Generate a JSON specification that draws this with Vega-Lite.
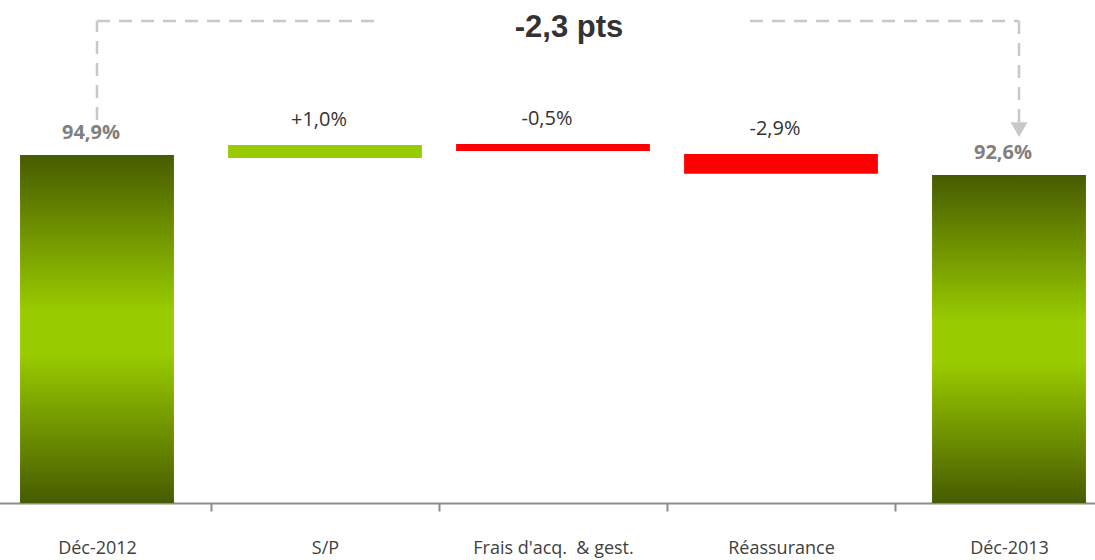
{
  "$schema": "https://vega.github.io/schema/vega-lite/v6.json",
  "width": 1085,
  "height": 498,
  "padding": {"left": 10, "top": 5, "right": 0, "bottom": 57},
  "autosize": {"type": "none"},
  "background": "white",
  "config": {
    "view": {"stroke": null},
    "font": "Open Sans",
    "axisX": {
      "domainColor": "#8c8c8c",
      "domainWidth": 2,
      "tickColor": "#8c8c8c",
      "tickWidth": 2,
      "tickSize": 8,
      "tickBand": "extent",
      "labelFont": "Open Sans",
      "labelFontSize": 18,
      "labelColor": "#404040",
      "labelPadding": 28,
      "labelAngle": 0,
      "labelDx": -18,
      "labelLimit": 0,
      "grid": false
    }
  },
  "datasets": {
    "bars": [
      {"cat": "Déc-2012", "lo": 55, "hi": 94.9, "label": "94,9%", "kind": "total"},
      {"cat": "S/P", "lo": 94.55, "hi": 96.05, "label": "+1,0%", "kind": "up"},
      {"cat": "Frais d'acq.\u00a0 & gest.", "lo": 95.36, "hi": 96.16, "label": "-0,5%", "kind": "down"},
      {"cat": "Réassurance", "lo": 92.76, "hi": 95.01, "label": "-2,9%", "kind": "down"},
      {"cat": "Déc-2013", "lo": 55, "hi": 92.6, "label": "92,6%", "kind": "total"}
    ],
    "connectors": [
      {"seg": "left-v", "cat": "Déc-2012", "y": 98.9, "y2": 110.26},
      {"seg": "left-h", "cat": "Déc-2012", "cat2": "S/P", "y": 110.26},
      {"seg": "right-h", "cat": "Réassurance", "cat2": "Déc-2013", "y": 110.26},
      {"seg": "right-v", "cat": "Déc-2013", "y": 98.68, "y2": 110.26},
      {"seg": "arrow", "cat": "Déc-2013", "y": 97.82}
    ],
    "headline": [
      {"cat": "Frais d'acq.\u00a0 & gest.", "y": 109.45, "text": "-2,3 pts"}
    ]
  },
  "layer": [
    {
      "data": {"name": "bars"},
      "transform": [{"filter": "datum.kind === 'total'"}],
      "mark": {
        "type": "bar",
        "width": {"band": 0.675},
        "color": {
          "gradient": "linear",
          "x1": 0, "y1": 0, "x2": 0, "y2": 1,
          "stops": [
            {"offset": 0, "color": "#475b00"},
            {"offset": 0.45, "color": "#99cc00"},
            {"offset": 0.57, "color": "#99cc00"},
            {"offset": 1, "color": "#475b00"}
          ]
        }
      },
      "encoding": {
        "x": {"field": "cat", "type": "nominal", "title": null, "scale": {"type": "band", "domain": ["Déc-2012", "S/P", "Frais d'acq.\u00a0 & gest.", "Réassurance", "Déc-2013"], "range": [-27, 1113], "paddingInner": 0, "paddingOuter": 0}},
        "y": {"field": "hi", "type": "quantitative", "axis": null, "scale": {"domain": [55, 112.1], "nice": false, "zero": false}},
        "y2": {"field": "lo"}
      }
    },
    {
      "data": {"name": "bars"},
      "transform": [{"filter": "datum.kind !== 'total'"}],
      "mark": {"type": "bar", "width": {"band": 0.85}},
      "encoding": {
        "x": {"field": "cat", "type": "nominal", "title": null, "scale": {"type": "band", "domain": ["Déc-2012", "S/P", "Frais d'acq.\u00a0 & gest.", "Réassurance", "Déc-2013"], "range": [-27, 1113], "paddingInner": 0, "paddingOuter": 0}},
        "y": {"field": "hi", "type": "quantitative", "axis": null, "scale": {"domain": [55, 112.1], "nice": false, "zero": false}},
        "y2": {"field": "lo"},
        "color": {"field": "kind", "type": "nominal", "legend": null, "scale": {"domain": ["up", "down"], "range": ["#99cc00", "#ff0000"]}}
      }
    },
    {
      "data": {"name": "bars"},
      "transform": [{"filter": "datum.kind !== 'total'"}],
      "mark": {"type": "text", "baseline": "middle", "align": "center", "dy": -25, "dx": -6, "fontSize": 20, "color": "#333333", "font": "Open Sans"},
      "encoding": {
        "x": {"field": "cat", "type": "nominal", "title": null, "scale": {"type": "band", "domain": ["Déc-2012", "S/P", "Frais d'acq.\u00a0 & gest.", "Réassurance", "Déc-2013"], "range": [-27, 1113], "paddingInner": 0, "paddingOuter": 0}},
        "y": {"field": "hi", "type": "quantitative", "axis": null, "scale": {"domain": [55, 112.1], "nice": false, "zero": false}},
        "text": {"field": "label"}
      }
    },
    {
      "data": {"name": "bars"},
      "transform": [{"filter": "datum.kind === 'total'"}],
      "mark": {"type": "text", "baseline": "middle", "align": "center", "dy": -22, "dx": -6, "fontSize": 20, "fontWeight": "bold", "color": "#808080", "font": "Open Sans"},
      "encoding": {
        "x": {"field": "cat", "type": "nominal", "title": null, "scale": {"type": "band", "domain": ["Déc-2012", "S/P", "Frais d'acq.\u00a0 & gest.", "Réassurance", "Déc-2013"], "range": [-27, 1113], "paddingInner": 0, "paddingOuter": 0}},
        "y": {"field": "hi", "type": "quantitative", "axis": null, "scale": {"domain": [55, 112.1], "nice": false, "zero": false}},
        "text": {"field": "label"}
      }
    },
    {
      "data": {"name": "connectors"},
      "transform": [{"filter": "datum.seg === 'left-v'"}],
      "mark": {"type": "rule", "color": "#c8c8c8", "strokeWidth": 2.5, "strokeDash": [13, 9]},
      "encoding": {
        "x": {"field": "cat", "type": "nominal", "title": null, "bandPosition": 0.5, "scale": {"type": "band", "domain": ["Déc-2012", "S/P", "Frais d'acq.\u00a0 & gest.", "Réassurance", "Déc-2013"], "range": [-27, 1113], "paddingInner": 0, "paddingOuter": 0}},
        "y": {"field": "y", "type": "quantitative", "axis": null, "scale": {"domain": [55, 112.1], "nice": false, "zero": false}},
        "y2": {"field": "y2"}
      }
    },
    {
      "data": {"name": "connectors"},
      "transform": [{"filter": "datum.seg === 'left-h'"}],
      "mark": {"type": "rule", "color": "#c8c8c8", "strokeWidth": 2.5, "strokeDash": [13, 9]},
      "encoding": {
        "x": {"field": "cat", "type": "nominal", "title": null, "bandPosition": 0.5, "scale": {"type": "band", "domain": ["Déc-2012", "S/P", "Frais d'acq.\u00a0 & gest.", "Réassurance", "Déc-2013"], "range": [-27, 1113], "paddingInner": 0, "paddingOuter": 0}},
        "x2": {"field": "cat2", "bandPosition": 0.754},
        "y": {"field": "y", "type": "quantitative", "axis": null, "scale": {"domain": [55, 112.1], "nice": false, "zero": false}}
      }
    },
    {
      "data": {"name": "connectors"},
      "transform": [{"filter": "datum.seg === 'right-h'"}],
      "mark": {"type": "rule", "color": "#c8c8c8", "strokeWidth": 2.5, "strokeDash": [13, 9]},
      "encoding": {
        "x": {"field": "cat", "type": "nominal", "title": null, "bandPosition": 0.364, "scale": {"type": "band", "domain": ["Déc-2012", "S/P", "Frais d'acq.\u00a0 & gest.", "Réassurance", "Déc-2013"], "range": [-27, 1113], "paddingInner": 0, "paddingOuter": 0}},
        "x2": {"field": "cat2", "bandPosition": 0.544},
        "y": {"field": "y", "type": "quantitative", "axis": null, "scale": {"domain": [55, 112.1], "nice": false, "zero": false}}
      }
    },
    {
      "data": {"name": "connectors"},
      "transform": [{"filter": "datum.seg === 'right-v'"}],
      "mark": {"type": "rule", "color": "#c8c8c8", "strokeWidth": 2.5, "strokeDash": [13, 9]},
      "encoding": {
        "x": {"field": "cat", "type": "nominal", "title": null, "bandPosition": 0.544, "scale": {"type": "band", "domain": ["Déc-2012", "S/P", "Frais d'acq.\u00a0 & gest.", "Réassurance", "Déc-2013"], "range": [-27, 1113], "paddingInner": 0, "paddingOuter": 0}},
        "y": {"field": "y", "type": "quantitative", "axis": null, "scale": {"domain": [55, 112.1], "nice": false, "zero": false}},
        "y2": {"field": "y2"}
      }
    },
    {
      "data": {"name": "connectors"},
      "transform": [{"filter": "datum.seg === 'arrow'"}],
      "mark": {"type": "point", "shape": "triangle-down", "size": 289, "filled": true, "color": "#c8c8c8", "opacity": 1},
      "encoding": {
        "x": {"field": "cat", "type": "nominal", "title": null, "bandPosition": 0.544, "scale": {"type": "band", "domain": ["Déc-2012", "S/P", "Frais d'acq.\u00a0 & gest.", "Réassurance", "Déc-2013"], "range": [-27, 1113], "paddingInner": 0, "paddingOuter": 0}},
        "y": {"field": "y", "type": "quantitative", "axis": null, "scale": {"domain": [55, 112.1], "nice": false, "zero": false}}
      }
    },
    {
      "data": {"name": "headline"},
      "mark": {"type": "text", "baseline": "middle", "align": "center", "dx": 16, "fontSize": 31, "fontWeight": "bold", "color": "#333333", "font": "Liberation Sans"},
      "encoding": {
        "x": {"field": "cat", "type": "nominal", "title": null, "scale": {"type": "band", "domain": ["Déc-2012", "S/P", "Frais d'acq.\u00a0 & gest.", "Réassurance", "Déc-2013"], "range": [-27, 1113], "paddingInner": 0, "paddingOuter": 0}},
        "y": {"field": "y", "type": "quantitative", "axis": null, "scale": {"domain": [55, 112.1], "nice": false, "zero": false}},
        "text": {"field": "text"}
      }
    }
  ]
}
